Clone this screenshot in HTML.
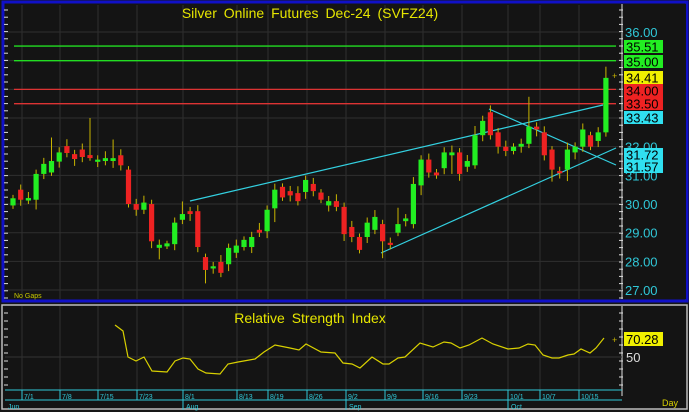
<!DOCTYPE html>
<html><head><meta charset="utf-8"><style>
html,body{margin:0;padding:0;background:#1a1a1a;width:689px;height:412px;overflow:hidden}
svg{display:block}
text{font-family:"Liberation Sans",sans-serif}
</style></head><body>
<svg id="s" width="689" height="412" xmlns="http://www.w3.org/2000/svg">
<rect x="0" y="0" width="689" height="412" fill="#161616"/>
<rect x="3" y="2" width="684" height="299" fill="#141414" stroke="#1010c8" stroke-width="3"/>
<rect x="2" y="305" width="685" height="104" fill="#141414" stroke="#bdbdbd" stroke-width="1.5"/>
<rect x="622" y="4" width="64" height="295" fill="#141414"/>
<line x1="622" y1="4" x2="622" y2="299" stroke="#e0e0e0" stroke-width="1"/>
<line x1="622" y1="306" x2="622" y2="396" stroke="#e0e0e0" stroke-width="1"/>
<g id="grid"></g>
<g id="lines"></g>
<g id="candles"></g>
<g id="rsi"></g>
<text x="310" y="18" fill="#e6e600" font-size="14" text-anchor="middle" word-spacing="3">Silver Online Futures Dec-24 (SVFZ24)</text>
<text x="310" y="323" fill="#e6e600" font-size="14" text-anchor="middle" word-spacing="3">Relative Strength Index</text>
<text x="14" y="298" fill="#c8c800" font-size="7">No Gaps</text>
<g id="axis" font-size="13"></g>
</svg>
<script>
var NS="http://www.w3.org/2000/svg";
function el(p,t,a,txt){var e=document.createElementNS(NS,t);for(var k in a)e.setAttribute(k,a[k]);if(txt!=null)e.textContent=txt;document.getElementById(p).appendChild(e);return e;}
function Y(p){return 32+(36-p)*28.67;}
var dx=[22,60,98,137,183,237,268,307,346,385,423,462,508,540,579];
for(var p=27;p<=36;p++){el('grid','line',{x1:5,x2:622,y1:Y(p),y2:Y(p),stroke:'#2f2f2f'});}
dx.forEach(function(x){el('grid','line',{x1:x,x2:x,y1:5,y2:299,stroke:'#2f2f2f'});el('grid','line',{x1:x,x2:x,y1:306,y2:390,stroke:'#2f2f2f'});});
el('grid','line',{x1:5,x2:622,y1:357,y2:357,stroke:'#333'});
for(var y=10;y<299;y+=7.2){el('grid','line',{x1:4,x2:8,y1:y,y2:y,stroke:'#ddd'});el('grid','line',{x1:619,x2:623,y1:y,y2:y,stroke:'#ddd'});}
for(var y=313;y<390;y+=8){el('grid','line',{x1:4,x2:8,y1:y,y2:y,stroke:'#ddd'});el('grid','line',{x1:619,x2:623,y1:y,y2:y,stroke:'#ddd'});}
[[35.51,'#22dd22'],[35.0,'#22dd22'],[34.0,'#dd3333'],[33.5,'#dd3333']].forEach(function(l){el('lines','line',{x1:14,x2:616,y1:Y(l[0]),y2:Y(l[0]),stroke:l[1],'stroke-width':1.3});});
[[190,201,603,105],[381,253,616,148],[489,109,616,165]].forEach(function(l){el('lines','line',{x1:l[0],y1:l[1],x2:l[2],y2:l[3],stroke:'#33d0e0','stroke-width':1.2});});
var C=[[29.95,30.2],[30.5,30.15],[30.15,30.18],[30.15,31.05],[31.05,31.4],[31.1,31.5],[31.48,31.8],[32.02,31.78],[31.74,31.57],[31.9,31.64],[31.68,31.63],[31.5,31.52],[31.5,31.6],[31.5,31.6],[31.7,31.35],[31.2,30.0],[30.0,29.8],[29.8,30.05],[30.0,28.7],[28.5,28.55],[28.55,28.6],[28.6,29.35],[29.45,29.65],[29.75,29.65],[29.75,28.5],[28.15,27.7],[27.78,27.8],[27.98,27.6],[27.9,28.47],[28.3,28.55],[28.5,28.75],[28.5,28.85],[29.1,29.0],[29.05,29.8],[29.85,30.5],[30.6,30.23],[30.45,30.3],[30.38,30.1],[30.42,30.84],[30.7,30.45],[30.4,30.15],[29.95,30.1],[30.1,29.9],[29.9,28.95],[29.2,28.85],[28.85,28.4],[28.85,29.35],[29.1,29.55],[29.3,28.7],[28.62,28.6],[29.0,29.3],[29.43,29.47],[29.3,30.7],[30.65,31.55],[31.55,31.1],[31.1,31.0],[31.25,31.8],[31.7,31.8],[31.8,31.05],[31.3,31.5],[31.35,32.4],[32.4,32.9],[33.2,32.4],[32.5,32.0],[32.0,31.85],[31.85,32.0],[32.0,32.1],[32.1,32.7],[32.7,32.6],[32.5,31.7],[31.9,31.2],[31.12,31.1],[31.2,31.9],[31.8,32.0],[32.0,32.6],[32.4,32.0],[32.2,32.5],[32.5,34.4]];
var extraH={5:0.7,10:1.2,13:0.5,22:0.2,50:0.45,67:0.8,60:0.2,77:0.15};
var extraL={3:0.1,19:0.25,25:0.35,34:0.3,48:0.35,53:0.1,57:0.5,70:0.3,72:0.25};
C.forEach(function(c,i){var x=13+i*7.7,o=c[0],cl=c[1];var hi=Math.max(o,cl)+0.12+(extraH[i]||0)+((i*37)%5)*0.03,lo=Math.min(o,cl)-0.12-(extraL[i]||0)-((i*23)%5)*0.03;
el('candles','line',{x1:x,x2:x,y1:Y(hi),y2:Y(lo),stroke:'#c8b400','stroke-width':1});
var t=Y(Math.max(o,cl)),b=Y(Math.min(o,cl));if(b-t<1.5){t-=0.8;b+=0.8;}
el('candles','rect',{x:x-2.6,y:t,width:5.2,height:b-t,fill:cl>=o?'#22ee22':'#ee2222'});});
var R=[[115,325],[123,331],[128,357],[136,361],[144,357],[152,371],[167,372],[175,361],[183,358],[190,359],[198,369],[206,373],[220,374],[228,364],[238,362],[255,359],[264,352],[275,345],[290,348],[299,350],[306,344],[321,352],[335,353],[343,363],[352,364],[360,368],[372,357],[383,364],[389,364],[398,358],[405,357],[420,343],[433,347],[444,342],[451,343],[460,348],[469,345],[482,338],[493,344],[508,349],[519,348],[528,344],[535,345],[543,355],[552,358],[559,358],[568,355],[574,354],[581,349],[590,353],[596,348],[604,338]];
el('rsi','polyline',{points:R.map(function(p){return p.join(',')}).join(' '),fill:'none',stroke:'#d8d000','stroke-width':1.2});
[[36,'36.00'],[30,'30.00'],[29,'29.00'],[28,'28.00'],[27,'27.00'],[32,'32.00'],[31,'31.00']].forEach(function(l){el('axis','text',{x:625,y:Y(l[0])+5,fill:'#30c8d8'},l[1]);});
var boxes=[[40,'35.51','#22ee22','#000'],[55,'35.00','#22ee22','#000'],[71,'34.41','#f0f000','#000'],[84,'34.00','#ee2222','#000'],[97,'33.50','#ee2222','#000'],[111,'33.43','#30e0f0','#000'],[148,'31.72','#30e0f0','#000'],[160,'31.57','#30e0f0','#000']];
boxes.forEach(function(b){el('axis','rect',{x:624,y:b[0],width:39,height:13,fill:b[2]});el('axis','text',{x:626,y:b[0]+11.5,fill:b[3]},b[1]);});
el('axis','text',{x:612,y:79,fill:'#c8b400','font-size':9},'+');
el('axis','text',{x:612,y:343,fill:'#c8b400','font-size':9},'+');
el('axis','rect',{x:624,y:332,width:39,height:14,fill:'#f0f000'});
el('axis','text',{x:626,y:344,fill:'#000'},'70.28');
el('axis','text',{x:626,y:362,fill:'#ddd'},'50');
el('axis','line',{x1:5,x2:622,y1:390,y2:390,stroke:'#30c8d8'});
el('axis','line',{x1:5,x2:622,y1:400,y2:400,stroke:'#30c8d8'});
dx.forEach(function(x,i){el('axis','line',{x1:x,x2:x,y1:390,y2:400,stroke:'#30c8d8'});});
var lab=['7/1','7/8','7/15','7/23','8/1','8/13','8/19','8/26','9/2','9/9','9/16','9/23','10/1','10/7','10/15'];
dx.forEach(function(x,i){el('axis','text',{x:x+2,y:399,fill:'#30c8d8','font-size':7},lab[i]);});
[[5,'Jun'],[183,'Aug'],[346,'Sep'],[508,'Oct']].forEach(function(m){if(m[0]>5)el('axis','line',{x1:m[0],x2:m[0],y1:400,y2:410,stroke:'#30c8d8'});el('axis','text',{x:m[0]+3,y:409,fill:'#30c8d8','font-size':7},m[1]);});
el('axis','text',{x:662,y:406,fill:'#d8d000','font-size':9},'Day');
</script>
</body></html>
